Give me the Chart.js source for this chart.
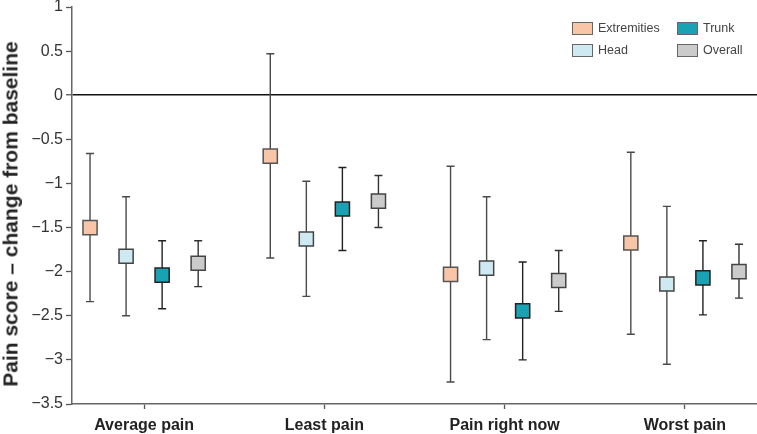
<!DOCTYPE html>
<html lang="en">
<head>
    <meta charset="UTF-8">
    <title>Pain score change from baseline</title>
    <script src="https://cdn.jsdelivr.net/npm/chart.js"></script>
    <style>
        body { margin: 0; background: #fff; font-family: Arial, "Liberation Sans", sans-serif; }
        #wrap { position: relative; width: 757px; height: 434px; }
        #legend { position: absolute; left: 572px; top: 22px; display: grid; grid-template-columns: 105px 70px; grid-auto-rows: 22px; }
        .item { display: flex; align-items: flex-start; font-size: 12.5px; color: #444; line-height: 13px; }
        .swatch { width: 21px; height: 13px; box-sizing: border-box; border: 1px solid #666; margin-right: 5px; }
        #ytitle { position: absolute; left: 10px; top: 214px; transform: translate(-50%, -50%) rotate(-90deg);
                  white-space: nowrap; font-size: 21px; font-weight: bold; color: #222; line-height: 21px; }
    </style>
</head>
<body>
<div id="wrap">
    <canvas id="chart" width="757" height="434"></canvas>
    <div id="ytitle">Pain score – change from baseline</div>
    <div id="legend"></div>
</div>
<script>
    // --- data ---
    const categories = ['Average pain', 'Least pain', 'Pain right now', 'Worst pain'];
    const yTicks = [1, 0.5, 0, -0.5, -1, -1.5, -2, -2.5, -3, -3.5];

    const extremitiesMean = [-1.5, -0.69, -2.03, -1.675];
    const extremitiesLow  = [-2.34, -1.845, -3.25, -2.71];
    const extremitiesHigh = [-0.66, 0.47, -0.805, -0.646];

    const headMean = [-1.825, -1.63, -1.96, -2.14];
    const headLow  = [-2.5, -2.28, -2.77, -3.05];
    const headHigh = [-1.15, -0.975, -1.15, -1.26];

    const trunkMean = [-2.04, -1.29, -2.445, -2.07];
    const trunkLow  = [-2.42, -1.76, -3.0, -2.49];
    const trunkHigh = [-1.65, -0.82, -1.89, -1.65];

    const overallMean = [-1.905, -1.2, -2.1, -2.0];
    const overallLow  = [-2.17, -1.5, -2.45, -2.3];
    const overallHigh = [-1.65, -0.91, -1.76, -1.69];

    // --- series styling ---
    const series = [
        { label: 'Extremities', mean: extremitiesMean, low: extremitiesLow, high: extremitiesHigh, fill: '#f9c5a7', edge: '#555', bar: '#4a4a4a', shift: -0.3 },
        { label: 'Head',        mean: headMean,        low: headLow,        high: headHigh,        fill: '#cfe9f2', edge: '#444', bar: '#4a4a4a', shift: -0.1 },
        { label: 'Trunk',       mean: trunkMean,       low: trunkLow,       high: trunkHigh,       fill: '#18a2b3', edge: '#222', bar: '#222',    shift: 0.1 },
        { label: 'Overall',     mean: overallMean,     low: overallLow,     high: overallHigh,     fill: '#cbcbcb', edge: '#444', bar: '#333',    shift: 0.3 }
    ];

    const fmt = v => (v < 0 ? '\u2212' + Math.abs(v) : String(v));

    // error bars drawn under the square markers
    const errorBars = {
        id: 'errorBars',
        beforeDatasetsDraw(chart) {
            const { ctx, scales: { x, y } } = chart;
            chart.data.datasets.forEach(ds => {
                ctx.save();
                ctx.strokeStyle = ds.barColor;
                ctx.lineWidth = 1.4;
                ds.data.forEach(p => {
                    const px = x.getPixelForValue(p.x);
                    const top = y.getPixelForValue(p.high);
                    const bot = y.getPixelForValue(p.low);
                    ctx.beginPath();
                    ctx.moveTo(px, top); ctx.lineTo(px, bot);
                    ctx.moveTo(px - 4, top); ctx.lineTo(px + 4, top);
                    ctx.moveTo(px - 4, bot); ctx.lineTo(px + 4, bot);
                    ctx.stroke();
                });
                ctx.restore();
            });
        }
    };

    const datasets = series.map(s => ({
        label: s.label,
        data: categories.map((c, i) => ({ x: i + s.shift, y: s.mean[i], low: s.low[i], high: s.high[i] })),
        backgroundColor: s.fill,
        borderColor: s.edge,
        pointStyle: 'rect',
        pointRadius: 10,
        pointHoverRadius: 10,
        pointBorderWidth: 1.5,
        barColor: s.bar,
        clip: false
    }));

    new Chart(document.getElementById('chart'), {
        type: 'scatter',
        data: { datasets },
        plugins: [errorBars],
        options: {
            responsive: false,
            animation: false,
            devicePixelRatio: 1,
            layout: { autoPadding: false, padding: { top: 7, left: 0, right: 0, bottom: 0 } },
            plugins: { legend: { display: false }, tooltip: { enabled: false } },
            events: [],
            scales: {
                x: {
                    type: 'linear',
                    min: -0.4,
                    max: 3.4,
                    afterBuildTicks: s => { s.ticks = categories.map((c, i) => ({ value: i })); },
                    afterFit: s => { s.height = 30; s.paddingLeft = 0; s.paddingRight = 0; },
                    ticks: {
                        callback: v => categories[v],
                        color: '#222',
                        font: { family: 'Arial, "Liberation Sans"', size: 16, weight: 'bold' },
                        padding: 7,
                        maxRotation: 0
                    },
                    grid: { drawOnChartArea: false, tickColor: '#555', tickLength: 5, tickWidth: 1.3 },
                    border: { color: '#666', width: 1.5 }
                },
                y: {
                    min: -3.5,
                    max: 1,
                    afterBuildTicks: s => { s.ticks = yTicks.map(v => ({ value: v })); },
                    afterFit: s => { s.width = 72; s.paddingTop = 0; s.paddingBottom = 0; },
                    ticks: {
                        callback: v => fmt(v),
                        color: '#333',
                        font: { family: 'Arial, "Liberation Sans"', size: 16 },
                        padding: 3
                    },
                    grid: {
                        color: c => (c.tick && c.tick.value === 0 ? '#111' : 'rgba(0,0,0,0)'),
                        lineWidth: c => (c.tick && c.tick.value === 0 ? 1.5 : 1),
                        tickColor: '#555',
                        tickLength: 6,
                        tickWidth: 1.3
                    },
                    border: { color: '#666', width: 1.5 }
                }
            }
        }
    });

    // two-column legend in the upper right
    const legend = document.getElementById('legend');
    [series[0], series[2], series[1], series[3]].forEach(s => {
        const item = document.createElement('div');
        item.className = 'item';
        item.innerHTML = '<span class="swatch" style="background:' + s.fill + '"></span><span>' + s.label + '</span>';
        legend.appendChild(item);
    });
</script>
</body>
</html>
